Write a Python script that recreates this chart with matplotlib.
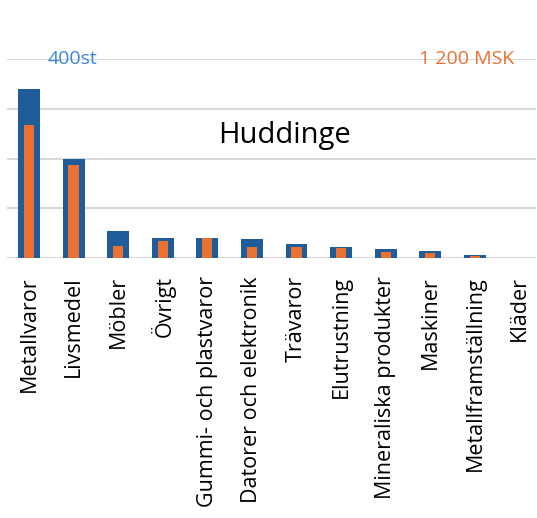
import numpy as np
import matplotlib
matplotlib.use('Agg')
import matplotlib.pyplot as plt

# branscher, antal (st) och omsättning (MSK)
branscher = ['Metallvaror', 'Livsmedel', 'Möbler', 'Övrigt', 'Gummi- och plastvaror',
             'Datorer och elektronik', 'Trävaror', 'Elutrustning', 'Mineraliska produkter',
             'Maskiner', 'Metallframställning', 'Kläder']
antal = [340, 198, 54, 41, 41, 39, 28, 23, 19, 15, 7, 1]
msk = [800, 562, 72, 102, 122, 64, 68, 58, 36, 32, 12, 1]

blue = '#1f5c99'
orange = '#e97132'
grid_c = '#d9d9d9'

plt.rcParams['font.family'] = ['Open Sans', 'DejaVu Sans']

fig = plt.figure(figsize=(5.37, 5.18), dpi=100)
ax = fig.add_axes([7 / 537, 1 - 258 / 518, 529 / 537, (258 - 59) / 518])
x = np.arange(len(branscher))

ax.bar(x, antal, width=0.49, color=blue, zorder=2)
ax.set_ylim(0, 400)
ax.set_xlim(-0.493, 11.37)
ax.set_yticks([0, 100, 200, 300, 400])
ax.set_yticklabels([])
ax.tick_params(axis='y', length=0)
ax.grid(axis='y', color=grid_c, linewidth=1.5, zorder=0)
for s in ax.spines.values():
    s.set_visible(False)
ax.set_xticks(x)
ax.set_xticklabels(branscher, rotation=90, ha='center', va='top', fontsize=15.5)
ax.tick_params(axis='x', length=0, pad=13)

ax2 = ax.twinx()
ax2.bar(x, msk, width=0.23, color=orange, zorder=3)
ax2.set_ylim(0, 1200)
ax2.set_yticks([])
for s in ax2.spines.values():
    s.set_visible(False)

ax.text(0.97, 400, '400st', color='#3a85d9', fontsize=14, ha='center', va='center', zorder=5)
ax.text(9.82, 400, '1 200 MSK', color=orange, fontsize=14, ha='center', va='center', zorder=5)
ax.text(5.72, 246, 'Huddinge', color='black', fontsize=21, ha='center', va='center')

fig.savefig('out.png', dpi=100)
